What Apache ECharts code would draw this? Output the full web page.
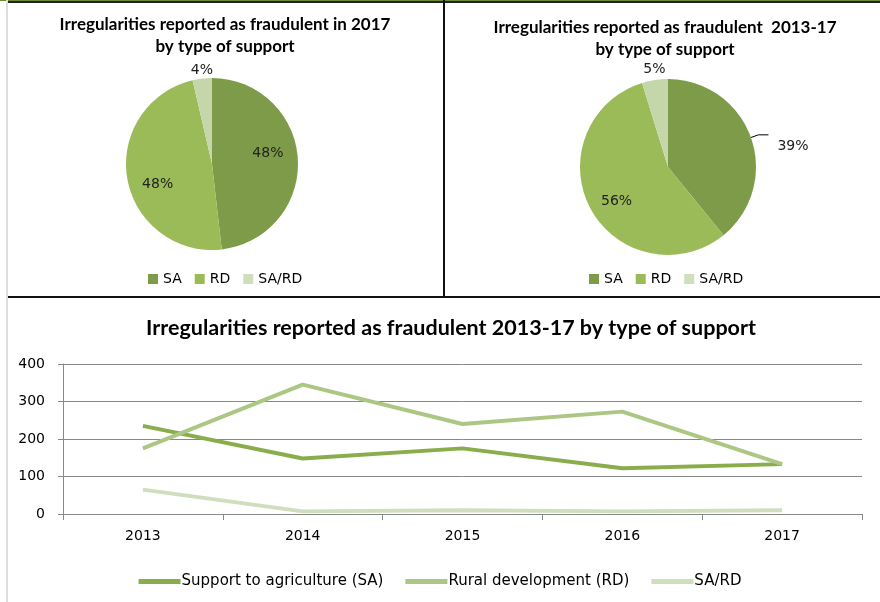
<!DOCTYPE html>
<html>
<head>
<meta charset="utf-8">
<script src="https://cdn.jsdelivr.net/npm/echarts@6/dist/echarts.min.js"></script>
<style>
  html, body { margin: 0; padding: 0; background: #fff; }
  #chart { width: 880px; height: 602px; }
</style>
</head>
<body>
<div id="chart"></div>
<script>
// data
var years = ['2013', '2014', '2015', '2016', '2017']
var saValues = [235, 148, 175, 122, 133]
var rdValues = [175, 345, 240, 273, 133]
var sardValues = [65, 7, 10, 7, 10]
var pieNames = ['SA', 'RD', 'SA/RD']
var lineNames = ['Support to agriculture (SA)', 'Rural development (RD)', 'SA/RD']
var yTicks = [0, 100, 200, 300, 400]

var pieColors = ['#7e9b49', '#9bbb59', '#c4d6aa']
var lineColors = ['#8aad4b', '#abc783', '#cfdebd']
var titleFont = 'Lato, Calibri, sans-serif'
var font = '"DejaVu Sans", sans-serif'

function sum (arr) {
  return arr.reduce(function (a, b) { return a + b }, 0)
}

// 2017 shares and 2013-17 totals
var pie2017 = [saValues[4], rdValues[4], sardValues[4]]
var pieTotal = [sum(saValues), sum(rdValues), sum(sardValues)]

function pct (p) {
  return Math.round(p.percent) + '%'
}

var titleStyle = { fontSize: 17, fontWeight: 'bold', color: '#000', lineHeight: 22, fontFamily: titleFont }

var chart = echarts.init(document.getElementById('chart'))
chart.setOption({
  color: pieColors,
  textStyle: { fontFamily: font },
  animation: false,
  title: [
    {
      text: 'Irregularities reported as fraudulent in 2017\nby type of support',
      left: 220, top: 9, textAlign: 'center',
      textStyle: titleStyle
    },
    {
      text: 'Irregularities reported as fraudulent  2013-17\nby type of support',
      left: 660, top: 12, textAlign: 'center',
      textStyle: titleStyle
    },
    {
      text: 'Irregularities reported as fraudulent 2013-17 by type of support',
      left: 446, top: 312, textAlign: 'center',
      textStyle: { fontSize: 21.5, fontWeight: 'bold', color: '#000', fontFamily: titleFont }
    }
  ],
  legend: [
    {
      data: pieNames, left: 143, top: 267, icon: 'rect', itemWidth: 10, itemHeight: 10, itemGap: 13,
      textStyle: { fontSize: 14, color: '#000', fontFamily: font }
    },
    {
      data: pieNames, left: 584, top: 267, icon: 'rect', itemWidth: 10, itemHeight: 10, itemGap: 13,
      textStyle: { fontSize: 14, color: '#000', fontFamily: font }
    },
    {
      data: lineNames, left: 'center', top: 569, itemWidth: 42, itemHeight: 5, itemGap: 22,
      icon: 'rect',
      textStyle: { fontSize: 15, color: '#000', fontFamily: font, padding: [0, 0, 0, -4] }
    }
  ],
  grid: { left: 63, right: 18, top: 364, bottom: 88 },
  xAxis: {
    type: 'category',
    data: years,
    axisLine: { lineStyle: { color: '#888', width: 1 } },
    axisTick: { show: true, length: 6, lineStyle: { color: '#888' } },
    axisLabel: { fontSize: 14, color: '#000', margin: 15, fontFamily: font }
  },
  yAxis: {
    type: 'value',
    min: yTicks[0],
    max: yTicks[yTicks.length - 1],
    interval: 100,
    axisLine: { show: true, lineStyle: { color: '#888' } },
    axisTick: { show: true, length: 5, lineStyle: { color: '#888' } },
    axisLabel: { fontSize: 14, color: '#000', margin: 18, fontFamily: font },
    splitLine: { lineStyle: { color: '#888', width: 1 } }
  },
  series: [
    {
      type: 'pie',
      center: [212, 164],
      radius: 86,
      startAngle: 90,
      label: { fontSize: 14, color: '#222', fontFamily: font, formatter: pct },
      labelLine: { show: false },
      emphasis: { scale: false },
      data: [
        { name: pieNames[0], value: pie2017[0], label: { show: true, position: 'inside', offset: [10, -8] } },
        { name: pieNames[1], value: pie2017[1], label: { show: true, position: 'inside', offset: [-9, 13] } },
        { name: pieNames[2], value: pie2017[2], label: { show: true, position: 'outside', offset: [16, -6] }, labelLine: { show: false, length: 2, length2: 0 } }
      ]
    },
    {
      type: 'pie',
      center: [668, 167],
      radius: 88,
      startAngle: 90,
      label: { fontSize: 14, color: '#222', fontFamily: font, formatter: pct },
      labelLine: { show: false },
      emphasis: { scale: false },
      labelLayout: function (p) {
        if (p.dataIndex === 0) return { dy: 12, dx: 4 }
        return {}
      },
      data: [
        { name: pieNames[0], value: pieTotal[0], label: { show: true, position: 'outside' }, labelLine: { show: true, length: 8, length2: 10, smooth: false, lineStyle: { color: '#000', width: 1 } } },
        { name: pieNames[1], value: pieTotal[1], label: { show: true, position: 'inside', offset: [-10, 12] } },
        { name: pieNames[2], value: pieTotal[2], label: { show: true, position: 'outside', offset: [16, -9] }, labelLine: { show: false, length: 2, length2: 0 } }
      ]
    },
    {
      name: lineNames[0], type: 'line', data: saValues, symbol: 'none',
      lineStyle: { width: 4, color: lineColors[0] }, itemStyle: { color: lineColors[0] }
    },
    {
      name: lineNames[1], type: 'line', data: rdValues, symbol: 'none',
      lineStyle: { width: 4, color: lineColors[1] }, itemStyle: { color: lineColors[1] }
    },
    {
      name: lineNames[2], type: 'line', data: sardValues, symbol: 'none',
      lineStyle: { width: 4, color: lineColors[2] }, itemStyle: { color: lineColors[2] }
    }
  ],
  graphic: [
    { type: 'rect', shape: { x: 0, y: 0, width: 880, height: 1 }, style: { fill: '#6b8a35' } },
    { type: 'rect', shape: { x: 8, y: 1, width: 872, height: 2 }, style: { fill: '#222' } },
    { type: 'rect', shape: { x: 6, y: 0, width: 2, height: 602 }, style: { fill: '#ddd' } },
    { type: 'rect', shape: { x: 8, y: 296, width: 872, height: 2 }, style: { fill: '#111' } },
    { type: 'rect', shape: { x: 443, y: 0, width: 2, height: 297 }, style: { fill: '#111' } }
  ]
})
</script>
</body>
</html>
